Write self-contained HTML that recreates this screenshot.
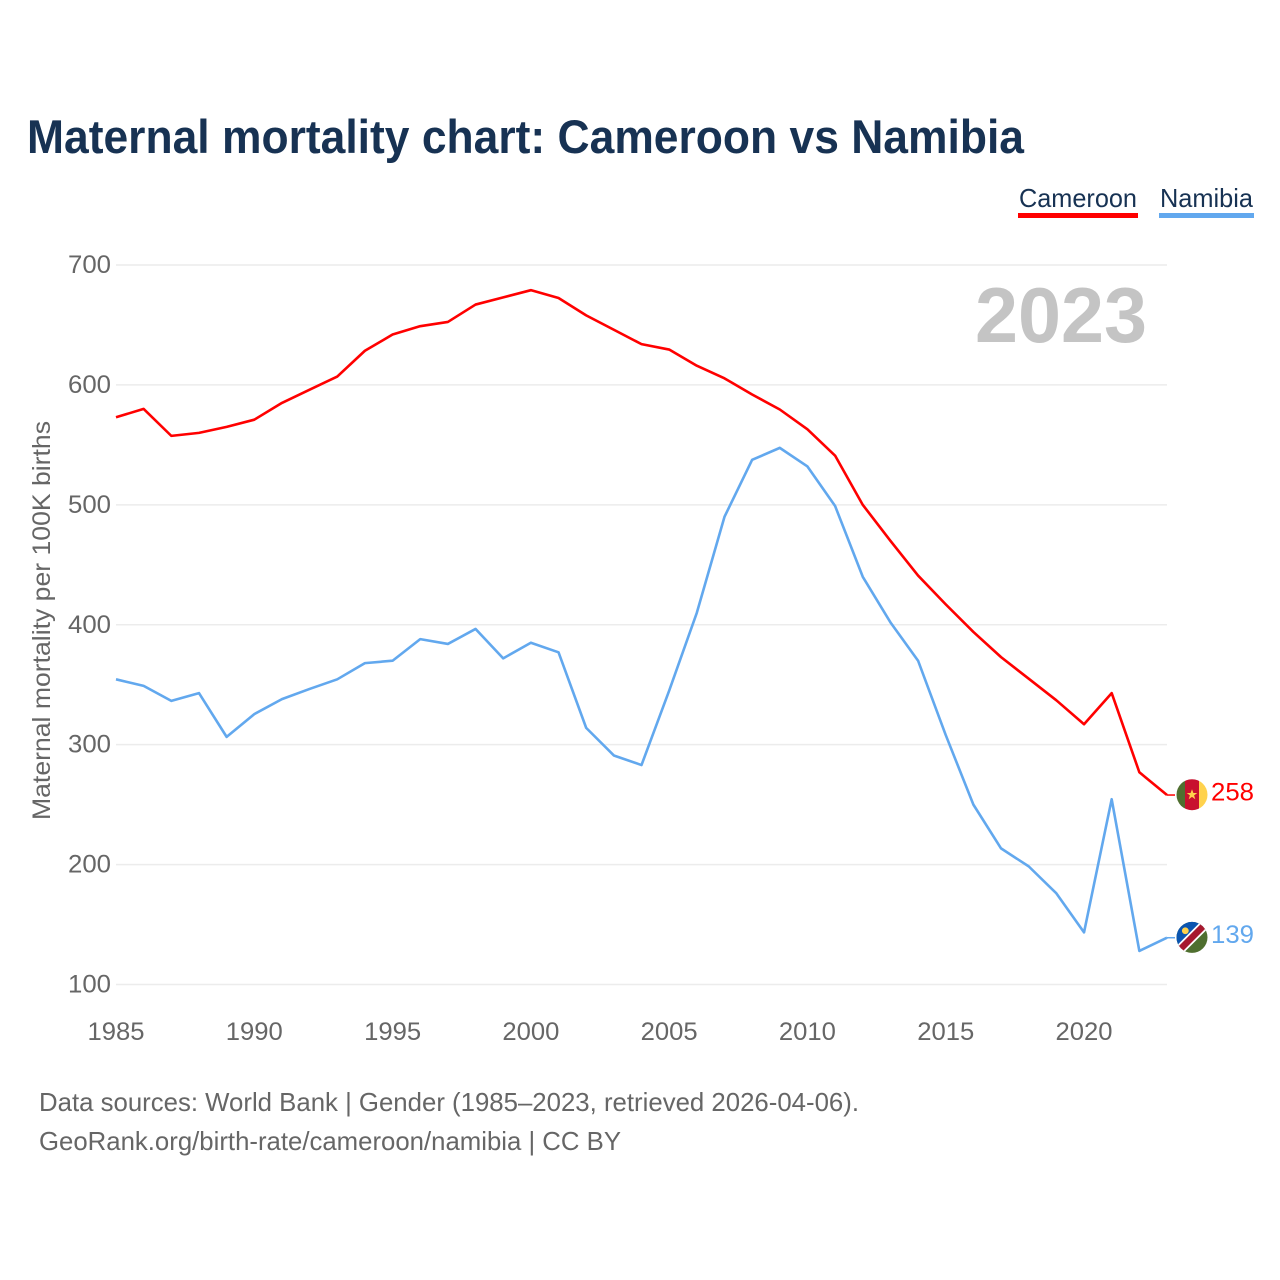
<!DOCTYPE html>
<html lang="en">
<head>
<meta charset="utf-8">
<title>Maternal mortality chart: Cameroon vs Namibia</title>
<style>
html,body{margin:0;padding:0;background:#fff;width:1280px;height:1280px;overflow:hidden}
svg{display:block}
text{font-family:"Liberation Sans",sans-serif}
</style>
</head>
<body>
<svg id="chart" xmlns="http://www.w3.org/2000/svg" width="1280" height="1280" viewBox="0 0 1280 1280">
<defs>
<clipPath id="flag-clip"><circle cx="0" cy="0" r="15.5"/></clipPath>
</defs>
<rect x="0" y="0" width="1280" height="1280" fill="#fff"/>
<text x="27" y="153" font-size="47" font-weight="700" fill="#173253" textLength="997" lengthAdjust="spacingAndGlyphs">Maternal mortality chart: Cameroon vs Namibia</text>
<g id="grid"></g>
<g id="yticks"></g>
<g id="xticks"></g>
<text transform="translate(50,820) rotate(-90)" font-size="25" fill="#666" textLength="399" lengthAdjust="spacingAndGlyphs">Maternal mortality per 100K births</text>
<text x="975" y="342" font-size="78" font-weight="700" fill="#c4c4c4" textLength="172" lengthAdjust="spacingAndGlyphs">2023</text>
<g id="series"></g>
<g>
<g>
<text x="1019" y="207" font-size="26" fill="#173253" textLength="118" lengthAdjust="spacingAndGlyphs">Cameroon</text>
<rect x="1018" y="213" width="120" height="5" fill="#ff0000"/>
</g>
<g>
<text x="1160" y="207" font-size="26" fill="#173253" textLength="93" lengthAdjust="spacingAndGlyphs">Namibia</text>
<rect x="1159" y="213" width="95" height="5" fill="#62a8ee"/>
</g>
</g>
<g id="flag-cameroon">
<g clip-path="url(#flag-clip)">
<rect x="-16" y="-16" width="9" height="32" fill="#4f6f2f"/>
<rect x="-7" y="-16" width="14" height="32" fill="#c8102e"/>
<rect x="7" y="-16" width="9" height="32" fill="#ffd24d"/>
<polygon points="0,-5.5 1.4,-1.7 5.3,-1.7 2.1,0.7 3.3,4.5 0,2.2 -3.3,4.5 -2.1,0.7 -5.3,-1.7 -1.4,-1.7" fill="#ffd24d"/>
</g>
</g>
<g id="flag-namibia">
<g clip-path="url(#flag-clip)">
<rect x="-16" y="-16" width="32" height="32" fill="#4f6f2f"/>
<polygon points="-16,-16 16,-16 -16,16" fill="#0b55b0"/>
<line x1="-16" y1="16" x2="16" y2="-16" stroke="#fff" stroke-width="10"/>
<line x1="-16" y1="16" x2="16" y2="-16" stroke="#a6192e" stroke-width="6.5"/>
<circle cx="-6.7" cy="-6.7" r="3.4" fill="#ffd24d"/>
</g>
</g>
<g id="end-labels"></g>
<text x="39" y="1111" font-size="26" fill="#666" textLength="820" lengthAdjust="spacingAndGlyphs">Data sources: World Bank | Gender (1985–2023, retrieved 2026-04-06).</text>
<text x="39" y="1150" font-size="26" fill="#666" textLength="582" lengthAdjust="spacingAndGlyphs">GeoRank.org/birth-rate/cameroon/namibia | CC BY</text>
</svg>
<script>
var years = [1985,1986,1987,1988,1989,1990,1991,1992,1993,1994,1995,1996,1997,1998,1999,2000,2001,2002,2003,2004,2005,2006,2007,2008,2009,2010,2011,2012,2013,2014,2015,2016,2017,2018,2019,2020,2021,2022,2023];
var cameroonValues = [573,580,557.5,560,565,571,585,596,607,628.5,642,649,652.5,667,673,679,672.5,658,646,634,629.5,616,605.5,592,579.5,563,541,500,470,441,417,394,373,355,337,317,343,277,258];
var namibiaValues = [354.5,349,336.5,343,306.5,325.5,338,346.5,354.5,368,370,388,384,396.5,372,385,377,314,291,283,345,410,490,537.5,547.5,532,499,440,402,370,308,250,213.5,198.5,176,143.5,254.5,128,139];
var yTickValues = [100,200,300,400,500,600,700];
var xTickValues = [1985,1990,1995,2000,2005,2010,2015,2020];

var NS = 'http://www.w3.org/2000/svg';
function xScale(year){ return 116 + (year - 1985) * (1167 - 116) / (2023 - 1985); }
function yScale(value){ return 984.5 - (value - 100) * (984.5 - 265) / 600; }
function make(tag, parent, attrs){
  var el = document.createElementNS(NS, tag);
  for (var k in attrs) el.setAttribute(k, attrs[k]);
  parent.appendChild(el);
  return el;
}

var grid = document.getElementById('grid');
var yticks = document.getElementById('yticks');
yTickValues.forEach(function(v){
  var line = make('line', grid, {x1:116, x2:1167, y1:yScale(v), y2:yScale(v), stroke:'#ececec', 'stroke-width':1.5});
  
  
  var t = make('text', yticks, {x:111, y:yScale(v) + 8, 'text-anchor':'end', 'font-size':25, fill:'#666', textLength:43, lengthAdjust:'spacingAndGlyphs'});
  t.textContent = v;
  
  
});

var xticks = document.getElementById('xticks');
xTickValues.forEach(function(v){
  var t = make('text', xticks, {x:xScale(v), y:1040, 'text-anchor':'middle', 'font-size':25, fill:'#666', textLength:57, lengthAdjust:'spacingAndGlyphs'});
  t.textContent = v;
  
  
});

function pathFor(values){
  return values.map(function(v, i){
    return (i ? 'L' : 'M') + xScale(years[i]).toFixed(2) + ' ' + yScale(v).toFixed(2);
  }).join(' ');
}

var series = document.getElementById('series');
var labels = document.getElementById('end-labels');
function drawSeries(key, values, color, flagId){
  var path = make('path', series, {d:pathFor(values), fill:'none', stroke:color, 'stroke-width':2.6, 'stroke-linejoin':'round'});
  
  
  var last = values[values.length - 1];
  var lastX = xScale(years[years.length - 1]);
  var lastY = yScale(last);
  var stub = make('line', series, {x1:lastX, x2:lastX + 8, y1:lastY, y2:lastY, stroke:color, 'stroke-width':1.5});
  
  
  document.getElementById(flagId).setAttribute('transform', 'translate(1192,' + (lastY - 0.3) + ')');
  var t = make('text', labels, {x:1254, y:lastY + 5.5, 'text-anchor':'end', 'font-size':25, fill:color, textLength:43, lengthAdjust:'spacingAndGlyphs'});
  t.textContent = Math.round(last);
  
  
}
drawSeries('namibia', namibiaValues, '#62a8ee', 'flag-namibia');
drawSeries('cameroon', cameroonValues, '#ff0000', 'flag-cameroon');
</script>
</body>
</html>
